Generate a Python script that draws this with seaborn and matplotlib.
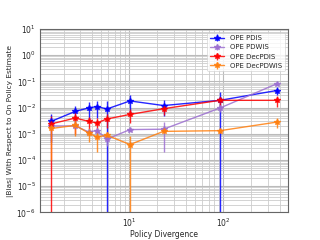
import numpy as np
import pandas as pd
import matplotlib
matplotlib.use("Agg")
import matplotlib.pyplot as plt
import seaborn as sns

divergence = [1.48, 2.67, 3.69, 4.53, 5.8, 10.2, 23.2, 92.9, 372]

pdis = [3.0e-3, 7.2e-3, 9.7e-3, 1.1e-2, 8.9e-3, 1.8e-2, 1.2e-2, 1.9e-2, 4.5e-2]
pdis_err = [2.5e-3, 4.5e-3, 6e-3, 7e-3, 9.5e-3, 1.2e-2, 7e-3, 2e-2, 1.5e-2]

pdwis = [2.0e-3, 2.0e-3, 1.18e-3, 1.33e-3, 6.3e-4, 1.45e-3, 1.5e-3, 9.7e-3, 8.1e-2]
pdwis_err = [5e-4, 5e-4, 3e-4, 4e-4, 3e-4, 2e-4, 1.3e-3, 3e-3, 1e-2]

decpdis = [2.4e-3, 4.0e-3, 3.0e-3, 2.6e-3, 3.7e-3, 5.5e-3, 9.1e-3, 1.9e-2, 1.9e-2]
decpdis_err = [2.6e-3, 3e-3, 1.5e-3, 1.5e-3, 2e-3, 3e-3, 4e-3, 7e-3, 8e-3]

decpdwis = [1.6e-3, 2.1e-3, 1.08e-3, 7.6e-4, 8.8e-4, 3.9e-4, 1.24e-3, 1.32e-3, 2.8e-3]
decpdwis_err = [1.5e-3, 1.3e-3, 6e-4, 5.6e-4, 3e-4, 4e-4, 2e-4, 2e-4, 1.2e-3]

labels = ["OPE PDIS", "OPE PDWIS", "OPE DecPDIS", "OPE DecPDWIS"]
colors = ["#0000ff", "#9c6fd0", "#ff0000", "#ff7f0e"]
values = [pdis, pdwis, decpdis, decpdwis]
errors = [pdis_err, pdwis_err, decpdis_err, decpdwis_err]

sns.set_style("white")
plt.rcParams['font.family'] = ['DejaVu Sans']

fig = plt.figure(figsize=(3.2, 2.4), dpi=100)
ax = fig.add_axes([0.125, 0.115, 0.775, 0.764])

for lab, col, v, e in zip(labels, colors, values, errors):
    ax.errorbar(divergence, v, yerr=e, fmt='-*', color=col, label=lab,
                lw=1.0, ms=4, elinewidth=1.0, alpha=0.85)

ax.set_xscale('log')
ax.set_yscale('log')
ax.set_ylim(1e-6, 1e1)
ax.grid(True, which='major', color='#bbbbbb', lw=0.8)
ax.grid(True, which='minor', color='#cccccc', lw=0.6)
ax.tick_params(axis='both', which='major', labelsize=5.5, length=2, pad=1)
ax.tick_params(axis='both', which='minor', length=1)
for s in ax.spines.values():
    s.set_color('#666666')
    s.set_linewidth(0.8)
ax.set_xlabel("Policy Divergence", fontsize=5.5, labelpad=0.5)
ax.set_ylabel("|Bias| With Respect to On Policy Estimate", fontsize=5.3, labelpad=2)
leg = ax.legend(loc='upper right', fontsize=5, frameon=True, borderpad=0.4,
                labelspacing=0.45, handlelength=2.0)
leg.get_frame().set_linewidth(0.5)

fig.savefig("out.png", dpi=100)
